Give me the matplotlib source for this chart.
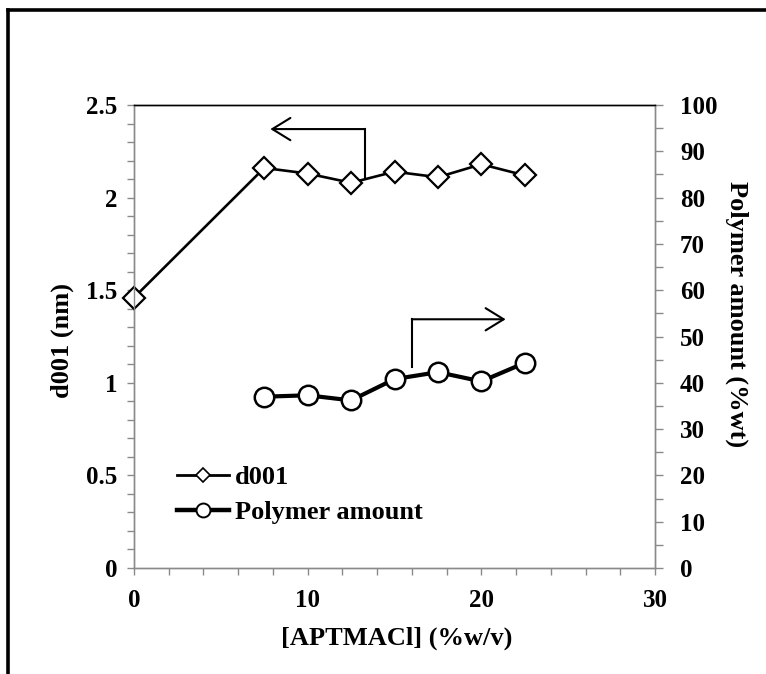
import matplotlib
matplotlib.use("Agg")
import matplotlib.pyplot as plt
from matplotlib.lines import Line2D
from matplotlib.ticker import MultipleLocator, FuncFormatter

# APTMACl concentration (%w/v)
conc_d001 = [0, 7.5, 10, 12.5, 15, 17.5, 20, 22.5]
d001_nm = [1.46, 2.16, 2.13, 2.08, 2.14, 2.11, 2.18, 2.12]

conc_poly = [7.5, 10, 12.5, 15, 17.5, 20, 22.5]
polymer_wt = [37.0, 37.3, 36.2, 40.8, 42.3, 40.3, 44.3]

plt.rcParams["font.family"] = ["Liberation Serif", "DejaVu Serif"]
plt.rcParams["font.weight"] = "bold"

TICK_FS = 18
LABEL_FS = 19
LEGEND_FS = 19
GRAY = "#8a8a8a"

fig = plt.figure(figsize=(7.66, 6.74), dpi=100)
ax = fig.add_axes([134 / 766, 1 - 568 / 674, (655 - 134) / 766, (568 - 105) / 674])
ax2 = ax.twinx()

# d001 series (left axis)
ax.plot(conc_d001, d001_nm, color="black", lw=1.9, marker="D", ms=11,
        mfc="white", mec="black", mew=1.6, zorder=3, clip_on=False)

# polymer amount series (right axis)
ax2.plot(conc_poly, polymer_wt, color="black", lw=3.0, marker="o", ms=14,
         mfc="white", mec="black", mew=1.8, zorder=3, clip_on=False)

ax.set_xlim(0, 30)
ax.set_ylim(0, 2.5)
ax2.set_ylim(0, 100)

ax.xaxis.set_major_locator(MultipleLocator(10))
ax.xaxis.set_minor_locator(MultipleLocator(2))
ax.yaxis.set_major_locator(MultipleLocator(0.5))
ax.yaxis.set_minor_locator(MultipleLocator(0.1))
ax2.yaxis.set_major_locator(MultipleLocator(10))
ax2.yaxis.set_minor_locator(MultipleLocator(5))

ax.yaxis.set_major_formatter(FuncFormatter(lambda v, p: f"{v:g}"))

for a in (ax, ax2):
    for side in ("left", "right", "bottom"):
        a.spines[side].set_color(GRAY)
        a.spines[side].set_linewidth(1.0)
    a.spines["top"].set_color("black")
    a.spines["top"].set_linewidth(1.0)

ax.tick_params(axis="both", which="both", direction="out", color=GRAY,
               length=5, width=1.0, labelsize=TICK_FS)
ax.tick_params(axis="y", pad=7)
ax.tick_params(axis="x", pad=10)
ax2.tick_params(axis="y", which="both", direction="out", color=GRAY,
                length=6, width=1.0, labelsize=TICK_FS, pad=12)

ax.set_xlabel("[APTMACl] (%w/v)", fontsize=LABEL_FS, fontweight="bold",
              ha="center", va="center")
ax.xaxis.set_label_coords(0.505, -0.151)
ax.set_ylabel("d001 (nm)", fontsize=LABEL_FS, fontweight="bold",
              ha="center", va="center", rotation=90, rotation_mode="anchor")
ax.yaxis.set_label_coords(-0.138, 0.492)
ax2.set_ylabel("Polymer amount (%wt)", fontsize=LABEL_FS, fontweight="bold",
               ha="center", va="center", rotation=270, rotation_mode="anchor")
ax2.yaxis.set_label_coords(1.157, 0.549)

# Direction arrows pointing to each series' axis
arrow_style = dict(arrowstyle="->,head_length=0.65,head_width=0.4",
                   lw=1.5, color="black", mutation_scale=20,
                   shrinkA=0, shrinkB=0)
ax.plot([13.3, 13.3], [2.10, 2.37], color="black", lw=1.5, zorder=2)
ax.annotate("", xy=(7.85, 2.37), xytext=(13.3, 2.37), arrowprops=arrow_style)
ax.plot([16.0, 16.0], [1.087, 1.343], color="black", lw=1.5, zorder=2)
ax.annotate("", xy=(21.4, 1.343), xytext=(16.0, 1.343), arrowprops=arrow_style)

# Legend
handles = [
    Line2D([], [], color="black", lw=2.0, marker="D", ms=7.5,
           mfc="white", mec="black", mew=1.2),
    Line2D([], [], color="black", lw=3.2, marker="o", ms=10,
           mfc="white", mec="black", mew=1.4),
]
ax2.legend(handles, ["d001", "Polymer amount"], loc="center left",
           bbox_to_anchor=(0.083, 0.158), frameon=False,
           handlelength=1.95, handletextpad=0.25, labelspacing=0.42,
           borderpad=0, borderaxespad=0,
           prop={"weight": "bold", "size": LEGEND_FS})

# Outer frame (top and left edges)
fig.add_artist(Line2D([8 / 766, 8 / 766], [0, 1 - 10 / 674],
                      transform=fig.transFigure, color="black", lw=2.6))
fig.add_artist(Line2D([8 / 766, 1], [1 - 10 / 674, 1 - 10 / 674],
                      transform=fig.transFigure, color="black", lw=2.6))

fig.savefig("out.png", dpi=100)
